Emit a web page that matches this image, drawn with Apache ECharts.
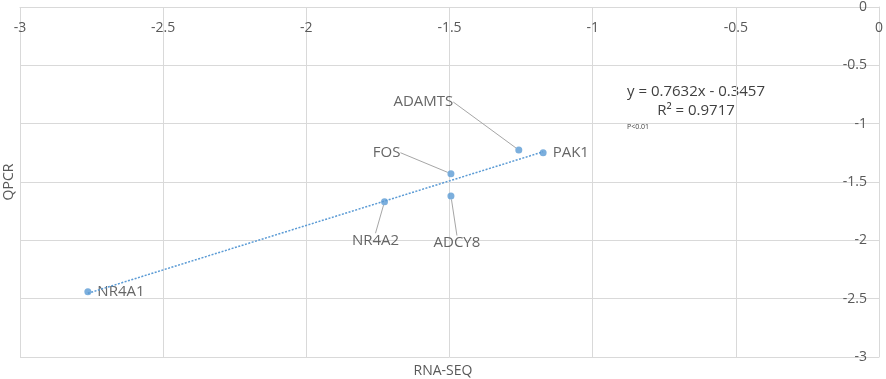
<!DOCTYPE html>
<html><head><meta charset="utf-8">
<script src="https://cdn.jsdelivr.net/npm/echarts@6/dist/echarts.min.js"></script>
<style>html,body{margin:0;padding:0;background:#fff}#c{width:886px;height:379px}</style>
</head><body><div id="c"></div>
<script>
var genes = ['NR4A1','NR4A2','FOS','ADCY8','ADAMTS','PAK1'];
var rnaSeq = [-2.763, -1.727, -1.495, -1.495, -1.258, -1.173];
var qpcr = [-2.44, -1.669, -1.429, -1.62, -1.226, -1.249];
var trendX = [-2.763, -1.173];
var trendY = [-2.454, -1.241];
var xTicks = [-3, -2.5, -2, -1.5, -1, -0.5, 0];
var yTicks = [0, -0.5, -1, -1.5, -2, -2.5, -3];
var xTitle = 'RNA-SEQ';
var yTitle = 'QPCR';
var equationText = 'y = 0.7632x - 0.3457';
var r2Text = 'R\u00b2 = 0.9717';
var pText = 'P<0.01';

// label layout styles (not data)
var labelPos = ['right','bottom','left','bottom','left','right'];
var labelDx = [0, -9, -41, 6, -56, 0];
var labelDy = [0, 22, -21, 30, -48, 0];
var labelLineOn = [false, true, true, true, true, false];

var FONT = '"Open Sans", "Liberation Sans", sans-serif';
var chart = echarts.init(document.getElementById('c'), null, {renderer:'canvas'});
var pts = genes.map(function(g,i){
  return {
    name: g,
    value: [rnaSeq[i], qpcr[i]],
    label: {position: labelPos[i]},
    labelLine: {show: labelLineOn[i]}
  };
});
var trend = trendX.map(function(x,i){ return [x, trendY[i]]; });

chart.setOption({
  animation: false,
  backgroundColor: '#fff',
  grid: {left: 20, right: 6, top: 7, bottom: 22, containLabel: false},
  xAxis: {
    type: 'value', position: 'top', min: -3, max: 0, interval: 0.5,
    axisLine: {show: true, onZero: false, lineStyle: {color: '#d9d9d9'}},
    axisTick: {show: false},
    splitLine: {show: true, lineStyle: {color: '#d9d9d9'}},
    axisLabel: {inside: true, margin: 14, color: '#595959', fontSize: 14, fontFamily: FONT,
      showMinLabel: true, showMaxLabel: true,
      formatter: function(v){ return xTicks.indexOf(v) >= 0 ? String(v) : ''; }}
  },
  yAxis: {
    type: 'value', position: 'right', min: -3, max: 0, interval: 0.5,
    axisLine: {show: true, onZero: false, lineStyle: {color: '#d9d9d9'}},
    axisTick: {show: false},
    splitLine: {show: true, lineStyle: {color: '#d9d9d9'}},
    axisLabel: {inside: true, margin: 12, color: '#595959', fontSize: 14, fontFamily: FONT,
      showMinLabel: true, showMaxLabel: true,
      formatter: function(v){ return yTicks.indexOf(v) >= 0 ? String(v) : ''; }}
  },
  series: [
    {
      type: 'line', data: trend, symbol: 'none', silent: true,
      lineStyle: {color: '#5b9bd5', width: 1.5, type: [2, 1.5]}
    },
    {
      type: 'scatter', data: pts, symbolSize: 7,
      itemStyle: {color: '#5b9bd5'},
      label: {show: true, formatter: '{b}', color: '#404040', fontSize: 15, fontFamily: FONT, distance: 6},
      labelLine: {show: true, lineStyle: {color: '#a6a6a6', width: 1}},
      labelLayout: function(p){ return {dx: labelDx[p.dataIndex], dy: labelDy[p.dataIndex]}; }
    }
  ],
  graphic: [
    {type: 'text', x: 9, y: 182, rotation: Math.PI/2, style: {text: yTitle, fill: '#595959', font: '14px ' + FONT, align: 'center', verticalAlign: 'middle'}},
    {type: 'text', x: 443, y: 371, style: {text: xTitle, fill: '#595959', font: '14px ' + FONT, align: 'center', verticalAlign: 'middle'}},
    {type: 'text', x: 696, y: 92, style: {text: equationText, fill: '#404040', font: '15px ' + FONT, align: 'center', verticalAlign: 'middle'}},
    {type: 'text', x: 696, y: 111, style: {text: r2Text, fill: '#404040', font: '15px ' + FONT, align: 'center', verticalAlign: 'middle'}},
    {type: 'text', x: 627, y: 127, style: {text: pText, fill: '#404040', font: '7px ' + FONT, align: 'left', verticalAlign: 'middle'}}
  ]
});
</script></body></html>
